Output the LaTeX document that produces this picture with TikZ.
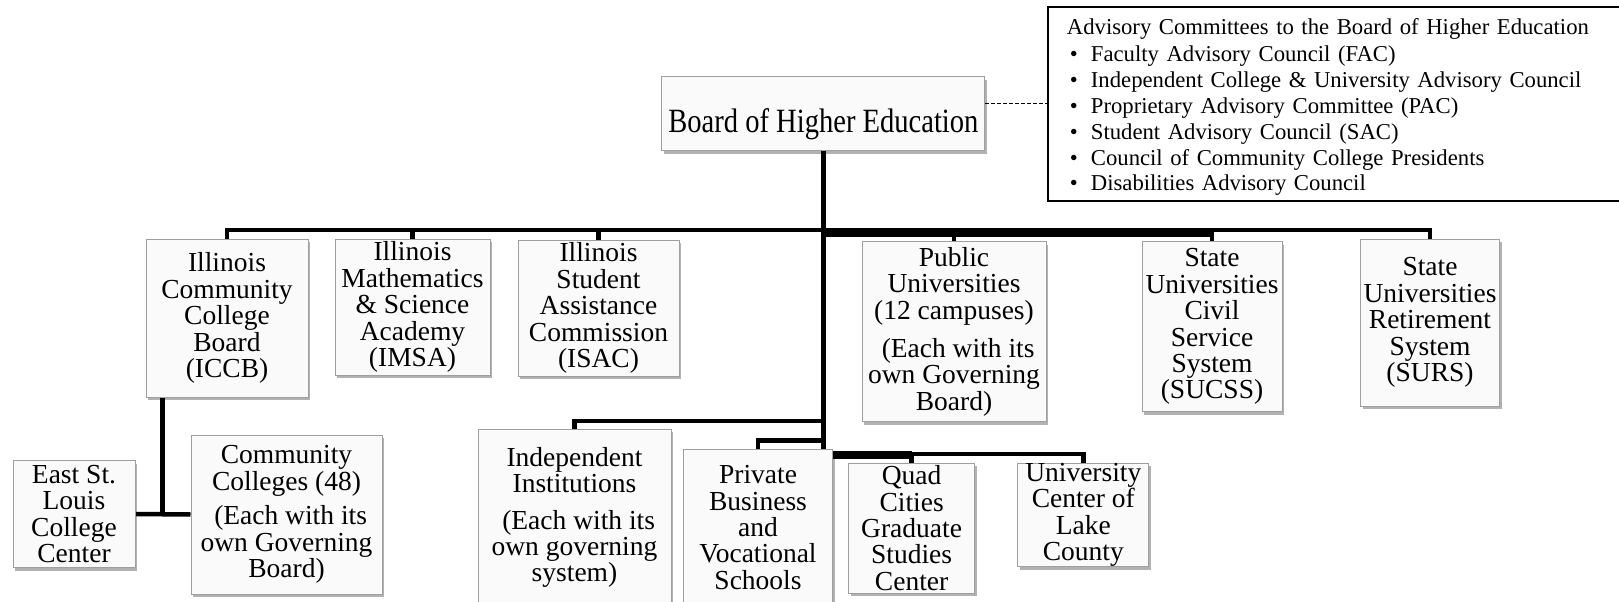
\documentclass[tikz,border=0pt]{standalone}
\usepackage{fontspec}
\setmainfont{Liberation Serif}
\newfontfamily\boardfont[FakeStretch=0.84]{Liberation Serif}
\usetikzlibrary{shadows}
\pgfdeclarelayer{background}
\pgfsetlayers{background,main}
\tikzset{
  orgbox/.style={draw=gray!75, line width=1pt, fill=gray!4, align=center, inner sep=0pt,
    font=\fontsize{27.5}{26.4}\selectfont,
    drop shadow={shadow xshift=2pt, shadow yshift=-3pt, fill=black, opacity=0.3}},
  advbox/.style={draw=black, line width=1.8pt, fill=white, align=left, inner ysep=0pt, inner xsep=19pt,
    font=\fontsize{22.7}{25.8}\selectfont},
  conn/.style={line width=4.5pt, black, line join=miter},
  thickconn/.style={line width=9pt, black},
  dashline/.style={line width=1.3pt, black, dash pattern=on 4pt off 2pt}
}
\newcommand{\advitem}[1]{\hspace*{3pt}\makebox[21pt][l]{\textbullet}#1}
\begin{document}
\begin{tikzpicture}[x=1pt, y=-1pt]
\useasboundingbox (0,0) rectangle (1619,602);

% nodes
\node[orgbox, minimum width=323pt, minimum height=74pt, text height=38pt, text depth=0pt,
  font=\boardfont\fontsize{34}{36}\selectfont] (board) at (823.4,113.7) {Board of Higher Education};
\node[advbox, anchor=north west, minimum width=580pt, minimum height=194pt, text width=542pt] (adv) at (1047,6) {%
\rule{0pt}{22pt}Advisory Committees to the Board of Higher Education\\[2pt]
\advitem{Faculty Advisory Council (FAC)}\\
\advitem{Independent College \& University Advisory Council}\\
\advitem{Proprietary Advisory Committee (PAC)}\\
\advitem{Student Advisory Council (SAC)}\\
\advitem{Council of Community College Presidents}\\
\advitem{Disabilities Advisory Council}};

\node[orgbox, minimum width=162pt, minimum height=158pt] (iccb) at (227,318) {Illinois\\Community\\College\\Board\\(ICCB)};
\node[orgbox, minimum width=155pt, minimum height=136pt] (imsa) at (412.5,307) {Illinois\\Mathematics\\\&~Science\\Academy\\(IMSA)};
\node[orgbox, minimum width=161pt, minimum height=136pt] (isac) at (598.5,308) {Illinois\\Student\\Assistance\\Commission\\(ISAC)};
\node[orgbox, minimum width=184pt, minimum height=180pt] (pub) at (954,331.7) {Public\\Universities\\(12 campuses)\\[12pt]\hspace*{0.3em}(Each with its\\own Governing\\Board)};
\node[orgbox, minimum width=140pt, minimum height=170pt] (sucss) at (1212,326.7) {State\\Universities\\Civil\\Service\\System\\(SUCSS)};
\node[orgbox, minimum width=139pt, minimum height=167pt] (surs) at (1430,322.5) {State\\Universities\\Retirement\\System\\(SURS)};

\node[orgbox, minimum width=122pt, minimum height=107pt] (esl) at (74,514) {East St.\\Louis\\College\\Center};
\node[orgbox, minimum width=191pt, minimum height=159pt] (cc) at (286.5,514.5) {Community\\Colleges (48)\\[8.5pt]\hspace*{0.3em}(Each with its\\own Governing\\Board)};

\node[orgbox, minimum width=193pt, minimum height=177pt] (indep) at (574.5,517.5) {Independent\\Institutions\\[10pt]\hspace*{0.3em}(Each with its\\own governing\\system)};
\node[orgbox, minimum width=149pt, minimum height=157pt] (priv) at (758,527.5) {Private\\Business\\and\\Vocational\\Schools};
\node[orgbox, minimum width=126pt, minimum height=130pt] (quad) at (911.6,528) {Quad\\Cities\\Graduate\\Studies\\Center};
\node[orgbox, minimum width=131pt, minimum height=102pt] (uc) at (1083.3,515) {University\\Center of\\Lake\\County};

\coordinate (bus) at (0,230);
\coordinate (busb) at (0,232.2);
\coordinate (iccbleg) at ([xshift=17pt]iccb.south west);

% connectors
\begin{pgfonlayer}{background}
\draw[dashline] ([yshift=10.4pt]board.east) -- (board.east |- 0,103.3) -- (adv.west |- 0,103.3);
\foreach \n in {iccb,imsa,isac,pub,sucss,surs}
  \draw[conn] (\n.north) |- (board.south |- bus);
\draw[thickconn] (board.south |- busb) -- (sucss.north |- busb);
\draw[conn] (uc.north) -- ++(0,-9) -| (board.south);
\draw[conn] (quad.north) -- ++(0,-7.7) -| (board.south);
\draw[line width=8pt] (board.south |- 0,455) -- (quad.north |- 0,455);
\draw[conn] (priv.north) -- ++(0,-8) -| (board.south);
\draw[conn] (indep.north) -- ++(0,-7.5) -| (board.south);
\draw[conn] (iccbleg) -- (iccbleg |- esl.east);
\draw[conn] (esl.east) -- (cc.west);
\end{pgfonlayer}
\end{tikzpicture}
\end{document}
